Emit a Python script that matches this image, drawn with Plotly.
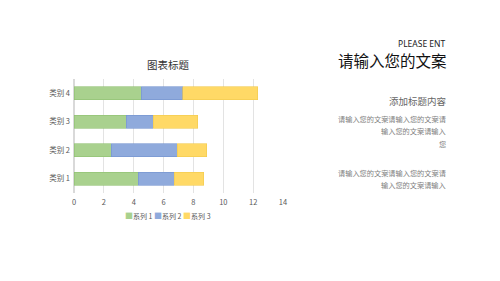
import plotly.graph_objects as go

categories = ["类别 1", "类别 2", "类别 3", "类别 4"]
series_names = ["系列 1", "系列 2", "系列 3"]
series1 = [4.3, 2.5, 3.5, 4.5]
series2 = [2.4, 4.4, 1.8, 2.8]
series3 = [2.0, 2.0, 3.0, 5.0]
colors = ["#A9D18E", "#8FAADC", "#FFD966"]
borders = ["#8FBF70", "#7393CF", "#F2C94C"]
x_ticks = [0, 2, 4, 6, 8, 10, 12, 14]

FONT = "Noto Sans CJK SC"
fig = go.Figure()
for name, vals, c, b in zip(series_names, [series1, series2, series3], colors, borders):
    fig.add_trace(go.Bar(y=categories, x=vals, name=name, orientation="h",
                         marker=dict(color=c, line=dict(color=b, width=0.6)),
                         showlegend=False))

W, H = 500, 281
L, R, T, B = 74, 283, 78.7, 193.3

def px(x):
    return (x - L) / (R - L)

def py(y):
    return (B - y) / (B - T)

annos = [
    ("PLEASE ENT", 448, 43, 8.5, "#222222", "Noto Sans"),
    ("请输入您的文案", 449, 60, 15.5, "#111111", FONT),
    ("添加标题内容", 449, 101, 9.5, "#666666", FONT),
    ("请输入您的文案请输入您的文案请", 448, 119, 7.2, "#808080", FONT),
    ("输入您的文案请输入", 448, 131, 7.2, "#808080", FONT),
    ("您", 448, 144, 7.2, "#808080", FONT),
    ("请输入您的文案请输入您的文案请", 448, 173, 7.2, "#808080", FONT),
    ("输入您的文案请输入", 448, 185, 7.2, "#808080", FONT),
]
annotations = [dict(text=t, x=px(x), y=py(y), xref="paper", yref="paper",
                    xanchor="right", yanchor="middle", showarrow=False,
                    font=dict(family=f, size=s, color=c))
               for t, x, y, s, c, f in annos]
annotations.append(dict(text="图表标题", x=px(168), y=py(64), xref="paper", yref="paper",
                        xanchor="center", yanchor="middle", showarrow=False,
                        font=dict(family=FONT, size=10.5, color="#333333")))
legend_text = " ".join(
    f"<span style='color:{c}; font-size:8px'>■</span>{n}" for n, c in zip(series_names, colors)
)
annotations.append(dict(text=legend_text, x=px(168), y=py(216), xref="paper", yref="paper",
                        xanchor="center", yanchor="middle", showarrow=False,
                        font=dict(family=FONT, size=7, color="#595959")))

fig.update_layout(
    width=W, height=H, barmode="stack", bargap=0.55,
    margin=dict(l=L, r=W - R, t=T, b=H - B, pad=0),
    paper_bgcolor="white", plot_bgcolor="white",
    font=dict(family=FONT, size=8, color="#595959"),
    xaxis=dict(range=[0, 14], tickvals=x_ticks, showgrid=True, gridcolor="#E3E3E3",
               gridwidth=1, zeroline=True, zerolinecolor="#D9D9D9", showline=False,
               ticks="", ticklabelstandoff=3, tickfont=dict(size=7.5, color="#595959")),
    yaxis=dict(showgrid=False, showline=False, ticks="", ticklabelstandoff=3,
               tickfont=dict(size=7.5, color="#595959")),
    showlegend=False,
    annotations=annotations,
)
fig.write_html("out.html")
